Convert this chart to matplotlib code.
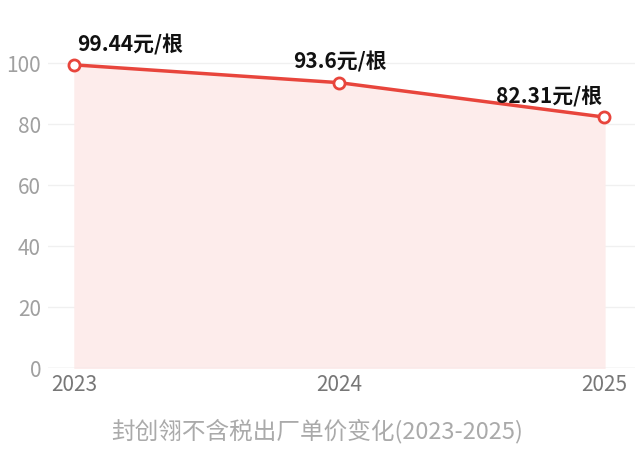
import matplotlib
matplotlib.use("Agg")
import matplotlib.pyplot as plt

plt.rcParams['font.family'] = ['Noto Sans CJK SC', 'DejaVu Sans']

years = [2023, 2024, 2025]
prices = [99.44, 93.6, 82.31]
labels = ["99.44元/根", "93.6元/根", "82.31元/根"]
yticks = [0, 20, 40, 60, 80, 100]
title = "封创翎不含税出厂单价变化(2023-2025)"

fig = plt.figure(figsize=(6.4, 4.54), dpi=100)
ax = fig.add_axes([0.075, 0.1894, 0.917, 0.7386])

red = "#e8453c"
ax.fill_between(years, prices, 0, color="#fdeceb", zorder=1)
ax.plot(years, prices, color=red, lw=2.5, zorder=3, clip_on=False)
ax.plot(years, prices, 'o', ms=8, mfc="white", mec=red, mew=2, zorder=4, clip_on=False)

offs = [(2, 7, 'left'), (0, 7, 'center'), (-2, 7, 'right')]
for x, y, t, (dx, dy, ha) in zip(years, prices, labels, offs):
    ax.annotate(t, (x, y), xytext=(dx, dy), textcoords='offset points',
                ha=ha, va='bottom', fontsize=15, fontweight='bold', color='#111111')

ax.set_xlim(2022.9, 2025.115)
ax.set_ylim(0, 110)
ax.set_yticks(yticks)
ax.set_xticks(years)
ax.set_xticklabels([str(y) for y in years])
ax.grid(axis='y', color='#f0f0f0', lw=1, zorder=0)
ax.set_axisbelow(True)
for s in ax.spines.values():
    s.set_visible(False)
ax.axhline(0, color='#e6e6e6', lw=1, zorder=2)
ax.tick_params(axis='both', length=0, labelsize=15, colors='#a0a0a0')
ax.tick_params(axis='y', pad=5)
ax.tick_params(axis='x', pad=4)
for lbl in ax.get_xticklabels():
    lbl.set_color('#777777')
for lbl in ax.get_xticklabels() + ax.get_yticklabels():
    lbl.set_fontweight('light')

fig.text(0.495, 0.05, title, ha='center', va='center', fontsize=17, color='#aaaaaa', fontweight='light')

fig.savefig("out.png", dpi=100)
